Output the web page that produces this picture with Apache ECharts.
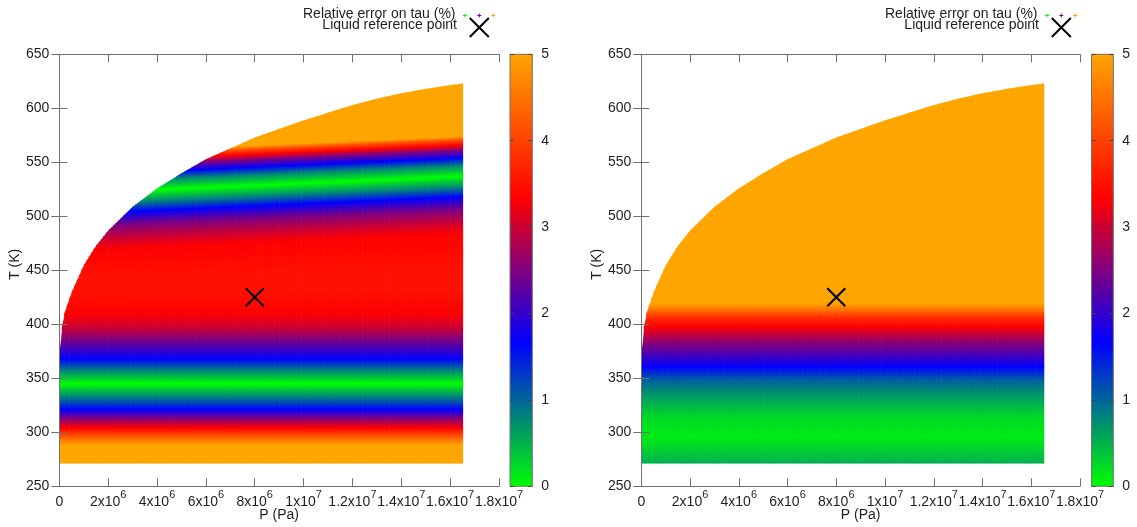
<!DOCTYPE html>
<html><head><meta charset="utf-8">
<script src="https://cdn.jsdelivr.net/npm/echarts@6/dist/echarts.min.js"></script>
<style>html,body{margin:0;padding:0;background:#fff}#c{width:1137px;height:527px}</style>
</head><body><div id="c"></div>
<script>
// ---------- data ----------
// Upper/left edge of the liquid domain (saturation curve), P in Pa, T in K
const satP = [0, 0, 1e5, 2e5, 5e5, 1e6, 1.5e6, 2e6, 3e6, 4e6, 5e6, 6e6, 7e6, 8e6, 9e6, 1e7, 1.1e7, 1.2e7, 1.3e7, 1.4e7, 1.5e7, 1.6e7, 1.653e7];
const satT = [271, 372, 397, 410, 430, 455, 473, 487, 509, 526, 540, 553, 563, 573, 581, 589, 596, 603, 609, 614, 618, 621.5, 623];
const domainPMax = 1.653e7;
const domainTMin = 271;

// Left panel: relative error (%) at feature levels, and the temperature of each level at several pressures
const leftColP = [0, 4e6, 8e6, 1.2e7, 1.653e7];
const leftErr = [5, 5, 4.2, 3.33, 2.5, 1.67, 0.8, 0, 0.8, 1.67, 2.5, 3.0, 3.33, 3.5, 3.5, 3.33, 3.0, 2.5, 1.67, 0.8, 0, 0.8, 1.67, 2.5, 3.33, 4.2, 5, 5];
const leftT_P0   = [271, 288, 296, 304, 313, 321, 333, 345, 357, 368, 386, 397, 410, 428, 444, 467, 477, 489, 501, 510, 520, 530, 537, 544, 549, 554, 557, 650];
const leftT_P4   = [271, 288, 296, 304, 313, 321, 333, 345, 357, 368, 386, 397, 410, 429, 446, 471.5, 481.5, 493.5, 505.5, 514.5, 524.5, 534.5, 541.5, 548.5, 553.5, 558.5, 561.5, 650];
const leftT_P8   = [271, 288, 296, 304, 313, 321, 333, 345, 357, 368, 386, 397, 410, 430, 448, 475.5, 485.5, 497.5, 509.5, 518.5, 528.5, 538.5, 545.5, 552.5, 557.5, 562.5, 565.5, 650];
const leftT_P12  = [271, 288, 296, 304, 313, 321, 333, 345, 357, 368, 386, 397, 410, 431, 450, 479.5, 489.5, 501.5, 513.5, 522.5, 532.5, 542.5, 549.5, 556.5, 561.5, 566.5, 569.5, 650];
const leftT_P165 = [271, 288, 296, 304, 313, 321, 333, 345, 357, 368, 386, 397, 410, 432, 452, 484, 494, 506, 518, 527, 537, 547, 554, 561, 566, 571, 574, 650];

// Right panel: relative error (%) versus temperature (no pressure dependence visible)
const rightColP = [0, 1.653e7];
const rightErr = [0.52, 0.3, 0.13, 0.26, 0.52, 0.72, 1.05, 1.67, 2.06, 2.39, 2.84, 3.33, 3.84, 4.44, 5, 5];
const rightT   = [271, 284, 296, 314.5, 327, 336, 348.5, 360.5, 370, 379, 388.5, 398, 407, 413, 419.5, 650];

// Liquid reference point
const refPoint = [8e6, 425];

// Tick labels
const pTickMant = ['0', '2x10', '4x10', '6x10', '8x10', '1x10', '1.2x10', '1.4x10', '1.6x10', '1.8x10'];
const pTickExp  = ['', '6', '6', '6', '6', '7', '7', '7', '7', '7'];

// Palette (colour scale 0..5)
const paletteV = [0, 5 / 3, 10 / 3, 5];
const paletteC = ['#00ff00', '#0000ff', '#ff0000', '#ffa500'];

// ---------- helpers ----------
const FONT = "'Liberation Sans', Arial, sans-serif";
const AX = '#707070', TXT = '#1e1e1e';
function hex(h) { return [parseInt(h.slice(1, 3), 16), parseInt(h.slice(3, 5), 16), parseInt(h.slice(5, 7), 16)]; }
function paletteColor(v) {
  v = Math.max(0, Math.min(5, v));
  let j = 0;
  while (j < paletteV.length - 2 && v > paletteV[j + 1]) j++;
  const f = (v - paletteV[j]) / (paletteV[j + 1] - paletteV[j]);
  const a = hex(paletteC[j]), b = hex(paletteC[j + 1]);
  return 'rgb(' + a.map((c, k) => Math.round(c + (b[k] - c) * f)).join(',') + ')';
}
function satTop(p) {
  for (let j = 0; j < satP.length - 1; j++) {
    if (satP[j + 1] > satP[j] && p >= satP[j] && p <= satP[j + 1]) {
      return satT[j] + (satT[j + 1] - satT[j]) * (p - satP[j]) / (satP[j + 1] - satP[j]);
    }
  }
  return satT[satT.length - 1];
}
function fieldRenderer(colP, colT, errs) {
  const colors = errs.map(paletteColor);
  return function (params, api) {
    const i = api.value(2);
    const p0 = colP[i], p1 = colP[i + 1];
    const cuts = [];
    for (let p = p0; p < p1 - 1; p += 1e5) cuts.push(p);
    satP.forEach(p => { if (p > p0 && p < p1) cuts.push(p); });
    cuts.push(p1);
    cuts.sort((a, b) => a - b);
    const yb = api.coord([0, domainTMin])[1];
    const yTopAxis = api.coord([0, 650])[1];
    const children = [];
    for (let k = 0; k < cuts.length - 1; k++) {
      const a = cuts[k], b = cuts[k + 1];
      if (b - a < 1) continue;
      const w = ((a + b) / 2 - p0) / (p1 - p0);
      const stops = colT[i].map((t, j) => {
        const tt = t + (colT[i + 1][j] - t) * w;
        return { offset: Math.max(0, Math.min(1, (tt - domainTMin) / (650 - domainTMin))), color: colors[j] };
      });
      const xa = api.coord([a, domainTMin])[0];
      const xb = api.coord([b, domainTMin])[0];
      const ov = (b >= domainPMax) ? 0 : 0.7;
      const ya = api.coord([a, satTop(a)])[1];
      const ybT = api.coord([b, satTop(b)])[1];
      children.push({
        type: 'polygon',
        shape: { points: [[xa, yb], [xb + ov, yb], [xb + ov, ybT], [xa, ya]] },
        style: { fill: { type: 'linear', x: xa, y: yb, x2: xa, y2: yTopAxis, global: true, colorStops: stops } },
        silent: true
      });
    }
    return { type: 'group', children: children };
  };
}
function crossRenderer(params, api) {
  const c = api.coord([api.value(0), api.value(1)]);
  const s = 9;
  return { type: 'group', children: [
    { type: 'line', shape: { x1: c[0] - s, y1: c[1] - s, x2: c[0] + s, y2: c[1] + s }, style: { stroke: '#000', lineWidth: 2 } },
    { type: 'line', shape: { x1: c[0] - s, y1: c[1] + s, x2: c[0] + s, y2: c[1] - s }, style: { stroke: '#000', lineWidth: 2 } }
  ]};
}
function colorbarRenderer(params, api) {
  const p0 = api.coord([0, 0]), p1 = api.coord([1, 5]);
  return { type: 'rect', shape: { x: p0[0], y: p1[1], width: p1[0] - p0[0], height: p0[1] - p1[1] },
    style: { fill: { type: 'linear', x: 0, y: 1, x2: 0, y2: 0, colorStops: paletteV.map((v, k) => ({ offset: v / 5, color: paletteC[k] })) },
      stroke: AX, lineWidth: 1 } };
}

// ---------- axes ----------
function pAxis(gridIndex) {
  return [{
    type: 'value', gridIndex, position: 'bottom', min: 0, max: 1.8e7, interval: 2e6, z: 10,
    name: 'P (Pa)', nameLocation: 'middle', nameGap: 22, nameMoveOverlap: false,
    nameTextStyle: { fontSize: 14, color: TXT, fontFamily: FONT },
    axisLine: { lineStyle: { color: AX } }, splitLine: { show: false },
    axisTick: { inside: true, length: 8, lineStyle: { color: AX } },
    axisLabel: {
      margin: 3, color: TXT, fontFamily: FONT, hideOverlap: false,
      formatter: (v, idx) => pTickExp[idx] ? '{m|' + pTickMant[idx] + '}{e|' + pTickExp[idx] + '}' : '{m|' + pTickMant[idx] + '}',
      rich: { m: { fontSize: 14, lineHeight: 20, verticalAlign: 'bottom', fontFamily: FONT, color: TXT },
              e: { fontSize: 11, lineHeight: 11, verticalAlign: 'top', fontFamily: FONT, color: TXT } }
    }
  }, {
    type: 'value', gridIndex, position: 'top', min: 0, max: 1.8e7, interval: 2e6, z: 10,
    axisLine: { lineStyle: { color: AX } }, splitLine: { show: false },
    axisTick: { inside: true, length: 8, lineStyle: { color: AX } }, axisLabel: { show: false }
  }];
}
function tAxis(gridIndex) {
  return [{
    type: 'value', gridIndex, position: 'left', min: 250, max: 650, interval: 50, z: 10,
    name: 'T (K)', nameLocation: 'middle', nameGap: 37, nameRotate: 90, nameMoveOverlap: false,
    nameTextStyle: { fontSize: 14, color: TXT, fontFamily: FONT, padding: [0, 0, 0, 12] },
    axisLine: { lineStyle: { color: AX } }, splitLine: { show: false },
    axisTick: { inside: true, length: 8, lineStyle: { color: AX } },
    axisLabel: { margin: 10, fontSize: 14, color: TXT, fontFamily: FONT }
  }, {
    type: 'value', gridIndex, position: 'right', min: 250, max: 650, interval: 50, z: 10,
    axisLine: { lineStyle: { color: AX } }, splitLine: { show: false },
    axisTick: { inside: true, length: 8, lineStyle: { color: AX } }, axisLabel: { show: false }
  }];
}
function cbAxes(gridIndex) {
  return [{
    type: 'value', gridIndex, position: 'left', min: 0, max: 5, interval: 1, z: 10,
    axisLine: { show: false }, splitLine: { show: false },
    axisTick: { inside: true, length: 4, lineStyle: { color: '#444' } }, axisLabel: { show: false }
  }, {
    type: 'value', gridIndex, position: 'right', min: 0, max: 5, interval: 1, z: 10,
    axisLine: { show: false }, splitLine: { show: false },
    axisTick: { inside: true, length: 4, lineStyle: { color: '#444' } },
    axisLabel: { margin: 9, fontSize: 14, color: TXT, fontFamily: FONT }
  }];
}
const cbX = gi => ({ type: 'value', gridIndex: gi, min: 0, max: 1, show: false });

// ---------- legend graphics ----------
function legend(dx) {
  const els = [
    { type: 'text', x: 455.5 + dx, y: 14, style: { text: 'Relative error on tau (%)', font: '14px ' + FONT, fill: TXT, textAlign: 'right', textVerticalAlign: 'middle' } },
    { type: 'text', x: 457 + dx, y: 25.5, style: { text: 'Liquid reference point', font: '14px ' + FONT, fill: TXT, textAlign: 'right', textVerticalAlign: 'middle' } }
  ];
  const plusX = [465, 479.3, 493.3], plusC = ['#00ff00', '#800080', '#ffa500'];
  plusX.forEach((x, k) => {
    els.push({ type: 'line', shape: { x1: x - 2 + dx, y1: 15.5, x2: x + 2 + dx, y2: 15.5 }, style: { stroke: plusC[k], lineWidth: 1 } });
    els.push({ type: 'line', shape: { x1: x + dx, y1: 13.5, x2: x + dx, y2: 17.5 }, style: { stroke: plusC[k], lineWidth: 1 } });
  });
  const cx = 479.3 + dx, cy = 27.5, s = 9.5;
  els.push({ type: 'line', shape: { x1: cx - s, y1: cy - s, x2: cx + s, y2: cy + s }, style: { stroke: '#000', lineWidth: 2 } });
  els.push({ type: 'line', shape: { x1: cx - s, y1: cy + s, x2: cx + s, y2: cy - s }, style: { stroke: '#000', lineWidth: 2 } });
  return els;
}

const chart = echarts.init(document.getElementById('c'), null, { renderer: 'canvas' });
const gridBase = { top: 54.3, height: 432, containLabel: false, outerBoundsMode: 'none' };
chart.setOption({
  animation: false,
  backgroundColor: '#fff',
  textStyle: { fontFamily: FONT },
  grid: [
    Object.assign({ left: 59.3, width: 439.7 }, gridBase),
    Object.assign({ left: 510, width: 22.3 }, gridBase),
    Object.assign({ left: 641.3, width: 438.7 }, gridBase),
    Object.assign({ left: 1091.5, width: 21.8 }, gridBase)
  ],
  xAxis: [...pAxis(0), cbX(1), ...pAxis(2), cbX(3)],
  yAxis: [...tAxis(0), ...cbAxes(1), ...tAxis(2), ...cbAxes(3)],
  graphic: [...legend(0), ...legend(582)],
  series: [
    { name: 'Relative error on tau (%)', type: 'custom', xAxisIndex: 0, yAxisIndex: 0, clip: true, z: 2,
      renderItem: fieldRenderer(leftColP, [leftT_P0, leftT_P4, leftT_P8, leftT_P12, leftT_P165], leftErr),
      data: leftColP.slice(0, -1).map((p, i) => [p, domainTMin, i]) },
    { name: 'Relative error on tau (%) ', type: 'custom', xAxisIndex: 3, yAxisIndex: 4, clip: true, z: 2,
      renderItem: fieldRenderer(rightColP, [rightT, rightT], rightErr),
      data: rightColP.slice(0, -1).map((p, i) => [p, domainTMin, i]) },
    { name: 'Liquid reference point', type: 'custom', xAxisIndex: 0, yAxisIndex: 0, z: 5, renderItem: crossRenderer, data: [refPoint] },
    { name: 'Liquid reference point ', type: 'custom', xAxisIndex: 3, yAxisIndex: 4, z: 5, renderItem: crossRenderer, data: [refPoint] },
    { type: 'custom', xAxisIndex: 2, yAxisIndex: 2, z: 2, renderItem: colorbarRenderer, data: [[0, 0]] },
    { type: 'custom', xAxisIndex: 5, yAxisIndex: 6, z: 2, renderItem: colorbarRenderer, data: [[0, 0]] }
  ]
});
</script></body></html>
